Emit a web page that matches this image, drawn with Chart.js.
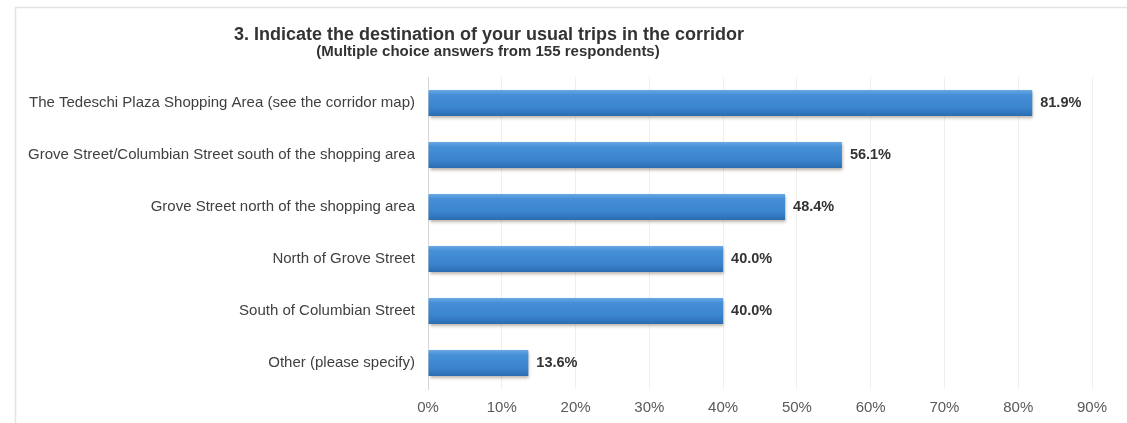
<!DOCTYPE html>
<html>
<head>
<meta charset="utf-8">
<script src="https://cdn.jsdelivr.net/npm/chart.js@4"></script>
<style>
  html, body { margin: 0; padding: 0; background: #ffffff; }
  #wrap { position: relative; width: 1127px; height: 423px; }
</style>
</head>
<body>
<div id="wrap"><canvas id="c" width="1127" height="423"></canvas></div>
<script>
// Survey question 3: destinations of usual trips in the corridor
const titleText = '3. Indicate the destination of your usual trips in the corridor';
const subtitleText = '(Multiple choice answers from 155 respondents)';

const destinations = [
  'The Tedeschi Plaza Shopping Area (see the corridor map)',
  'Grove Street/Columbian Street south of the shopping area',
  'Grove Street north of the shopping area',
  'North of Grove Street',
  'South of Columbian Street',
  'Other (please specify)'
];

const sharePercent = [81.9, 56.1, 48.4, 40.0, 40.0, 13.6];

const axisMin = 0;
const axisMax = 90;
const axisStep = 10;

const BAR_FRACTION = 0.5;
const FONT = '"Liberation Sans", Arial, Helvetica, sans-serif';

// Frame, title and subtitle
const headerPlugin = {
  id: 'header',
  beforeDraw(chart) {
    const ctx = chart.ctx;
    ctx.save();
    ctx.fillStyle = '#ffffff';
    ctx.fillRect(0, 0, chart.width, chart.height);
    ctx.strokeStyle = '#e4e4e4';
    ctx.lineWidth = 1.5;
    ctx.beginPath();
    ctx.moveTo(15.5, chart.height);
    ctx.lineTo(15.5, 7.5);
    ctx.lineTo(chart.width, 7.5);
    ctx.stroke();
    ctx.restore();
  },
  afterDraw(chart) {
    const ctx = chart.ctx;
    ctx.save();
    ctx.fillStyle = '#333333';
    ctx.textAlign = 'center';
    ctx.textBaseline = 'middle';
    ctx.font = 'bold 18px ' + FONT;
    ctx.fillText(titleText, 489, 35);
    ctx.font = 'bold 15px ' + FONT;
    ctx.fillText(subtitleText, 488, 52);
    ctx.restore();
  }
};

// Glossy vertical gradient for each bar, built from the category scale
function barGradient(context) {
  const chart = context.chart;
  const ys = chart.scales && chart.scales.y;
  if (!ys || context.dataIndex === undefined) return '#3a85cf';
  const center = ys.getPixelForValue(context.dataIndex);
  const half = (ys.height / destinations.length) * BAR_FRACTION / 2;
  if (!isFinite(center) || !isFinite(half) || half <= 0) return '#3a85cf';
  const g = chart.ctx.createLinearGradient(0, center - half, 0, center + half);
  g.addColorStop(0, '#6aa8e4');
  g.addColorStop(0.18, '#4690d8');
  g.addColorStop(0.7, '#3a83cd');
  g.addColorStop(1, '#2c6cb0');
  return g;
}

// Soft shadow under the bars
const barShadowPlugin = {
  id: 'barShadow',
  beforeDatasetDraw(chart) {
    const ctx = chart.ctx;
    ctx.save();
    ctx.shadowColor = 'rgba(90, 70, 50, 0.45)';
    ctx.shadowBlur = 3;
    ctx.shadowOffsetX = 1;
    ctx.shadowOffsetY = 2;
  },
  afterDatasetDraw(chart) {
    chart.ctx.restore();
  }
};

// Percentage label at the end of each bar
const valueLabelPlugin = {
  id: 'valueLabels',
  afterDatasetsDraw(chart) {
    const ctx = chart.ctx;
    const meta = chart.getDatasetMeta(0);
    ctx.save();
    ctx.font = 'bold 14.5px ' + FONT;
    ctx.fillStyle = '#333333';
    ctx.textAlign = 'left';
    ctx.textBaseline = 'middle';
    meta.data.forEach((el, i) => {
      ctx.fillText(sharePercent[i].toFixed(1) + '%', el.x + 8, el.y);
    });
    ctx.restore();
  }
};

new Chart(document.getElementById('c'), {
  type: 'bar',
  data: {
    labels: destinations,
    datasets: [{
      data: sharePercent,
      backgroundColor: barGradient,
      borderWidth: 0,
      barPercentage: BAR_FRACTION,
      categoryPercentage: 1.0
    }]
  },
  options: {
    indexAxis: 'y',
    responsive: false,
    animation: false,
    devicePixelRatio: 1,
    layout: { padding: { left: 0, right: 35, top: 77, bottom: 0 } },
    plugins: {
      legend: { display: false },
      title: { display: false },
      tooltip: { enabled: false }
    },
    scales: {
      x: {
        min: axisMin,
        max: axisMax,
        ticks: {
          stepSize: axisStep,
          padding: 10,
          color: '#5a5a5a',
          font: { family: FONT, size: 15 },
          callback: v => v + '%'
        },
        grid: { color: '#efefef', lineWidth: 1, drawTicks: false },
        border: { display: false },
        afterFit(scale) { scale.height = 34; }
      },
      y: {
        ticks: {
          padding: 13,
          color: '#3f3f3f',
          font: { family: FONT, size: 15 }
        },
        grid: { display: false, drawTicks: false },
        border: { display: true, color: '#d6d6d6', width: 1 },
        afterFit(scale) { scale.width = 428; }
      }
    }
  },
  plugins: [headerPlugin, barShadowPlugin, valueLabelPlugin]
});
</script>
</body>
</html>
